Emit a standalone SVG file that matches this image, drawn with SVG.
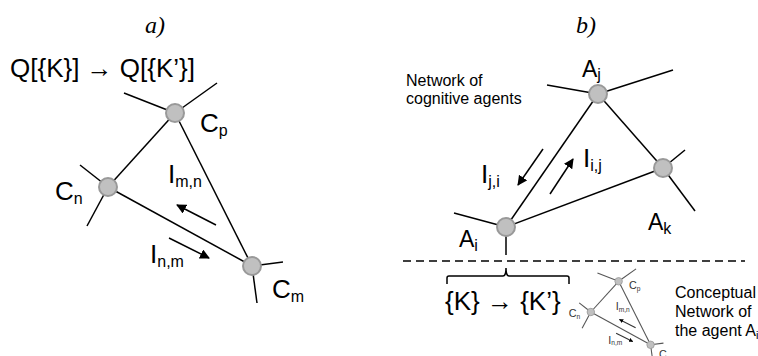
<svg xmlns="http://www.w3.org/2000/svg" width="758" height="356" viewBox="0 0 758 356">
<defs>
<style>
.ln{stroke:#000;stroke-width:1.5;fill:none}
.nd{fill:#c0c0c0;stroke:#999;stroke-width:2}
.t{font-family:"Liberation Sans",Arial,sans-serif;fill:#000}
.big{font-size:26px}
.mid{font-size:23px}
.sub{font-size:16px}
.lbl{font-size:16px}
.it{font-family:"Liberation Serif","Times New Roman",serif;font-style:italic;font-size:24px;fill:#000}
.ar{stroke:#000;stroke-width:1.5;fill:none;marker-end:url(#ah)}
.sm .ln{stroke:#555;stroke-width:2.6}
.sm .ar{stroke:#333;stroke-width:2.6}
.sm .t{fill:#333}
</style>
<marker id="ah" viewBox="0 0 10 10" refX="9" refY="5" markerWidth="10" markerHeight="10" markerUnits="userSpaceOnUse" orient="auto">
<path d="M0,0 L10,5 L0,10 z" fill="#000"/>
</marker>
</defs>
<rect width="758" height="356" fill="#fff"/>

<text class="it" x="155" y="33" text-anchor="middle">a)</text>
<text class="it" x="586" y="33" text-anchor="middle">b)</text>
<text class="t big" x="10" y="77">Q[{K}] → Q[{K’}]</text>

<g id="networkA">
<g id="connectorsA">
<line class="ln" x1="108" y1="187" x2="175" y2="113"/>
<line class="ln" x1="175" y1="113" x2="252" y2="266"/>
<line class="ln" x1="108" y1="187" x2="252" y2="266"/>
<line class="ln" x1="175" y1="113" x2="124" y2="93"/>
<line class="ln" x1="175" y1="113" x2="217" y2="83"/>
<line class="ln" x1="108" y1="187" x2="80" y2="165"/>
<line class="ln" x1="108" y1="187" x2="87" y2="226"/>
<line class="ln" x1="252" y1="266" x2="283" y2="262"/>
<line class="ln" x1="252" y1="266" x2="257" y2="303"/>
<line class="ar" x1="216" y1="225" x2="177" y2="205"/>
<line class="ar" x1="169" y1="238" x2="209" y2="258"/>
</g>
<g id="Cp"><circle class="nd" cx="175" cy="113" r="9"/><text class="t big" x="200" y="132">C<tspan class="sub" dy="4">p</tspan></text></g>
<g id="Cn"><circle class="nd" cx="108" cy="187" r="9"/><text class="t big" x="55" y="200">C<tspan class="sub" dy="4">n</tspan></text></g>
<g id="Cm"><circle class="nd" cx="252" cy="266" r="9"/><text class="t big" x="272" y="298">C<tspan class="sub" dy="4">m</tspan></text></g>
<text class="t big" x="168" y="183">I<tspan class="sub" dy="4">m,n</tspan></text>
<text class="t big" x="150" y="263">I<tspan class="sub" dy="4">n,m</tspan></text>
</g>

<g id="networkB">
<g id="connectorsB">
<line class="ln" x1="506" y1="227" x2="598" y2="94"/>
<line class="ln" x1="598" y1="94" x2="663" y2="168"/>
<line class="ln" x1="506" y1="227" x2="663" y2="168"/>
<line class="ln" x1="598" y1="94" x2="547" y2="85"/>
<line class="ln" x1="598" y1="94" x2="673" y2="70"/>
<line class="ln" x1="663" y1="168" x2="685" y2="150"/>
<line class="ln" x1="663" y1="168" x2="695" y2="211"/>
<line class="ln" x1="506" y1="227" x2="454" y2="213"/>
<line class="ln" x1="506" y1="227" x2="506" y2="255"/>
<line class="ar" x1="543" y1="149" x2="518" y2="185"/>
<line class="ar" x1="550" y1="194" x2="573" y2="159"/>
</g>
<g id="Aj"><circle class="nd" cx="598" cy="94" r="9"/><text class="t mid" x="582" y="77">A<tspan class="sub" dy="3">j</tspan></text></g>
<g id="Ak"><circle class="nd" cx="663" cy="168" r="9"/><text class="t mid" x="648" y="230">A<tspan class="sub" dy="4">k</tspan></text></g>
<g id="Ai"><circle class="nd" cx="506" cy="227" r="9"/><text class="t mid" x="459" y="247">A<tspan class="sub" dy="4">i</tspan></text></g>
<text class="t big" x="583" y="167">I<tspan class="sub" dy="4">i,j</tspan></text>
<text class="t big" x="481" y="183">I<tspan class="sub" dy="4">j,i</tspan></text>
<text class="t lbl" x="406" y="86">Network of</text>
<text class="t lbl" x="406" y="104">cognitive agents</text>
</g>

<line x1="403" y1="261" x2="745" y2="261" stroke="#000" stroke-width="1.5" stroke-dasharray="8 5"/>
<path d="M447,284 V278 Q447,276 449,276 H503 Q506,276 506,268 Q506,276 509,276 H567 Q569,276 569,278 V284" fill="none" stroke="#000" stroke-width="1.5"/>
<text class="t big" x="445" y="310">{K} → {K’}</text>

<g id="networkSmall" class="sm" transform="translate(546,234.4) scale(0.415)">
<line class="ln" x1="108" y1="187" x2="175" y2="113"/>
<line class="ln" x1="175" y1="113" x2="252" y2="266"/>
<line class="ln" x1="108" y1="187" x2="252" y2="266"/>
<line class="ln" x1="175" y1="113" x2="124" y2="93"/>
<line class="ln" x1="175" y1="113" x2="217" y2="83"/>
<line class="ln" x1="108" y1="187" x2="80" y2="165"/>
<line class="ln" x1="108" y1="187" x2="87" y2="226"/>
<line class="ln" x1="252" y1="266" x2="283" y2="262"/>
<line class="ln" x1="252" y1="266" x2="257" y2="303"/>
<line class="ar" x1="216" y1="225" x2="177" y2="205"/>
<line class="ar" x1="169" y1="238" x2="209" y2="258"/>
<g id="sCp"><circle class="nd" cx="175" cy="113" r="9"/><text class="t big" x="200" y="132">C<tspan class="sub" dy="4">p</tspan></text></g>
<g id="sCn"><circle class="nd" cx="108" cy="187" r="9"/><text class="t big" x="55" y="200">C<tspan class="sub" dy="4">n</tspan></text></g>
<g id="sCm"><circle class="nd" cx="252" cy="266" r="9"/><text class="t big" x="272" y="298">C<tspan class="sub" dy="4">m</tspan></text></g>
<text class="t big" x="168" y="183">I<tspan class="sub" dy="4">m,n</tspan></text>
<text class="t big" x="150" y="263">I<tspan class="sub" dy="4">n,m</tspan></text>
</g>

<text class="t lbl" x="675" y="298">Conceptual</text>
<text class="t lbl" x="675" y="317">Network of</text>
<text class="t lbl" x="675" y="336">the agent A<tspan font-size="11" dy="3">i</tspan></text>
</svg>
